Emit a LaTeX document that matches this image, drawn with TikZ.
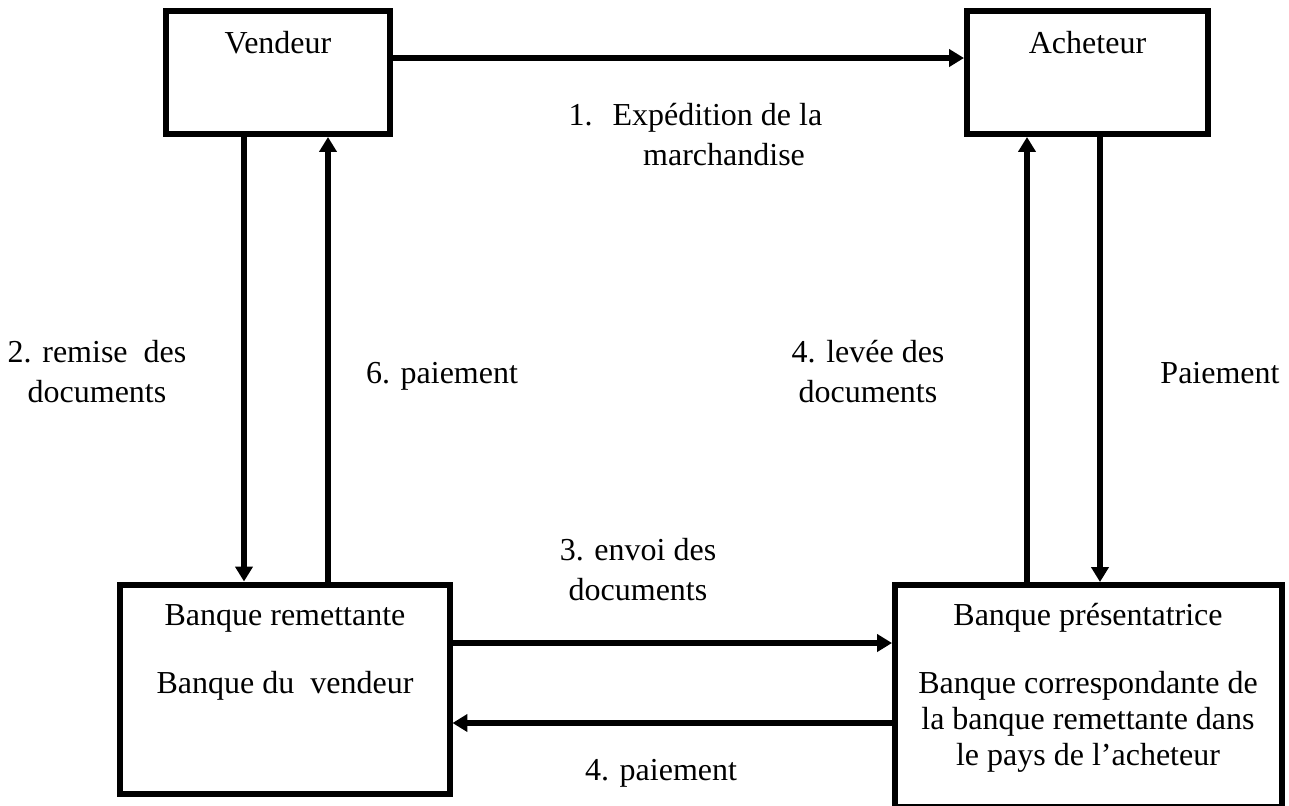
\documentclass[tikz,border=0pt]{standalone}
\usepackage{fontspec}
\setmainfont{Liberation Serif}
\usetikzlibrary{positioning,arrows.meta}
\newcommand{\px}{.375pt}
\tikzstyle{canvas} = [x=\px, y=-\px]
\tikzstyle{boxStyle} = [draw, line width=2.25pt, inner sep=0pt]
\tikzstyle{flowArrow} = [line width=1.9pt, -{Triangle[length=5.6pt, width=6.4pt]}]
\tikzstyle{boxText} = [inner sep=0pt, anchor=base, align=center, font=\fontsize{12}{13.5}\selectfont]
\tikzstyle{flowText} = [inner sep=0pt, anchor=base, align=center, font=\fontsize{12}{15}\selectfont]
\begin{document}
\begin{tikzpicture}[canvas]
        \useasboundingbox (0,0) rectangle (1289,805);
        % the four parties
        \node[boxStyle, minimum width=224*\px, minimum height=123*\px] (vendeur) at (278,72.5) {};
        \node[boxStyle, minimum width=241*\px, minimum height=123*\px] (acheteur) at (1087.5,72.5) {};
        \node[boxStyle, minimum width=329.5*\px, minimum height=209.5*\px] (remettante) at (284.75,689.25) {};
        \node[boxStyle, minimum width=387*\px, minimum height=222*\px] (presentatrice) at (1088.5,696) {};

        % texts in the boxes (base = last line)
        \node[boxText] (vendeurText) at (278,53) {Vendeur};
        \node[boxText] (acheteurText) at (1087.5,53) {Acheteur};
        \node[boxText] (remettanteText) at (285,625) {Banque remettante};
        \node[boxText] (remettanteSub) at (285,693) {Banque du\ \ vendeur};
        \node[boxText] (presentatriceText) at (1088,625) {Banque présentatrice};
        \node[boxText] (presentatriceSub) at (1088,765) {Banque correspondante de\\la banque remettante dans\\le pays de l’acheteur};

        % flows
        \draw[flowArrow] (vendeur.east |- 0,58) -- (acheteur.west |- 0,58);
        \draw[flowArrow] (vendeur.south -| 244,0) -- (remettante.north -| 244,0);
        \draw[flowArrow] (remettante.north -| 328,0) -- (vendeur.south -| 328,0);
        \draw[flowArrow] (remettante.east |- 0,643) -- (presentatrice.west |- 0,643);
        \draw[flowArrow] (presentatrice.west |- 0,723) -- (remettante.east |- 0,723);
        \draw[flowArrow] (presentatrice.north -| 1027,0) -- (acheteur.south -| 1027,0);
        \draw[flowArrow] (acheteur.south -| 1100,0) -- (presentatrice.north -| 1100,0);

        \node[flowText, anchor=base west, align=left] (expedition) at (568,165) {1.\hspace{7.5pt}Expédition de la\\\hspace*{28pt}marchandise};
        \node[flowText] (remise) at (97,402) {2. remise\ \ des\\documents};
        \node[flowText] (paiementSix) at (442,383) {6. paiement};
        \node[flowText] (levee) at (868,402) {4. levée des\\documents};
        \node[flowText] (paiementAcheteur) at (1220,383) {Paiement};
        \node[flowText] (envoi) at (638,600) {3. envoi des\\documents};
        \node[flowText] (paiementQuatre) at (661,780) {4. paiement};
      \end{tikzpicture}
\end{document}
